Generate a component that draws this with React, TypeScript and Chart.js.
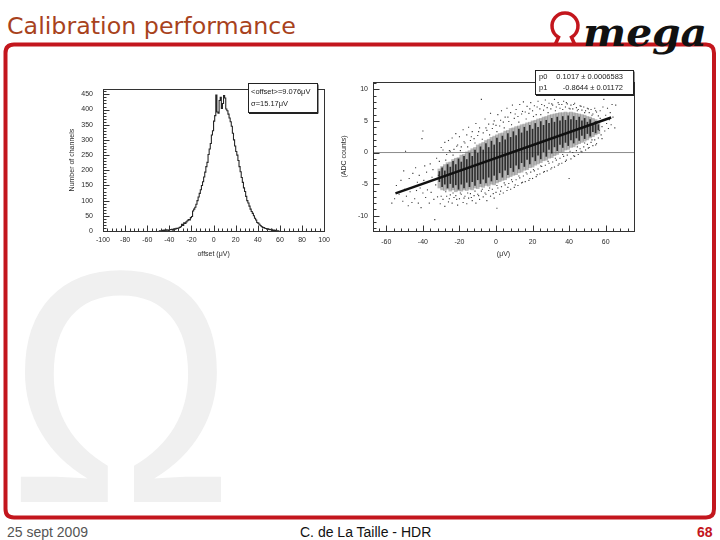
import React, { useEffect, useRef } from "react";
import { Chart, registerables } from "chart.js";

Chart.register(...registerables);
Chart.defaults.font.family = '"Liberation Sans", Arial, Helvetica, sans-serif';

// ---------- Histogram (left) ----------
const histStart = -50;
const histBinWidth = 1;
const histCounts = [
  0, 1, 0, 2, 1, 3, 2, 4, 3, 2,
  5, 4, 6, 3, 7, 6, 9, 8, 10, 12,
  14, 22, 18, 27, 25, 30, 34, 38, 36, 44,
  48, 66, 72, 78, 88, 100, 112, 124, 136, 150,
  162, 178, 194, 212, 226, 252, 270, 288, 316, 330,
  362, 380, 448, 392, 388, 430, 440, 404, 420, 446,
  438, 402, 396, 385, 372, 360, 345, 322, 300, 280,
  262, 250, 232, 212, 195, 176, 160, 142, 130, 114,
  100, 92, 82, 72, 64, 58, 50, 42, 36, 28,
  26, 22, 18, 15, 12, 11, 9, 8, 6, 7,
  5, 4, 6, 2, 3, 1, 2, 0, 1, 0,
];
const histXRange = [-100, 100];
const histYRange = [0, 467];
const histStatLines = ["<offset>=9.076\u03bcV", "\u03c3=15.17\u03bcV"];

// ---------- Scatter (right) ----------
const stripeX = [
  -31, -29.5, -28, -26.5, -25, -23.5, -22, -20.5, -19, -17.5, -16, -14.5, -13, -11.5, -10,
  -8.5, -7, -5.5, -4, -2.5, -1, 0.5, 2, 3.5, 5, 6.5, 8, 9.5, 11, 12.5, 14, 15.5, 17, 18.5,
  20, 21.5, 23, 24.5, 26, 27.5, 29, 30.5, 32, 33.5, 35, 36.5, 38, 39.5, 41, 42.5, 44, 45.5,
  47, 48.5, 50, 51.5, 53, 54.5, 56,
];
const stripeLo = [
  -5.6, -5.9, -6.0, -5.8, -6.1, -5.9, -6.2, -6.0, -6.1, -5.9, -6.0, -5.8, -5.9, -5.6, -5.7,
  -5.4, -5.5, -5.2, -5.3, -5.0, -5.1, -4.8, -4.6, -4.4, -4.3, -4.0, -3.8, -3.6, -3.5, -3.2, -3.1, -2.8, -2.7, -2.4,
  -2.3, -2.0, -1.8, -1.6, -1.3, -1.2, -0.9, -0.8, -0.5, -0.3, 0.0, 0.1, 0.4, 0.5, 0.8, 0.9, 1.2, 1.4,
  1.6, 1.8, 2.0, 2.3, 2.5, 2.8, 3.0,
];
const stripeHi = [
  -2.6, -2.2, -1.9, -1.6, -1.5, -1.1, -0.9, -0.8, -0.4, -0.3, 0.1, 0.3, 0.6, 0.8, 1.2,
  1.4, 1.6, 1.9, 2.1, 2.4, 2.6, 2.8, 3.0, 3.1, 3.4, 3.5, 3.8, 3.9, 4.1, 4.2, 4.4, 4.5, 4.7, 4.8,
  5.0, 5.1, 5.3, 5.4, 5.6, 5.7, 5.9, 6.0, 6.1, 6.2, 6.3, 6.3, 6.4, 6.3, 6.4, 6.3, 6.2, 6.1,
  6.0, 5.9, 5.7, 5.6, 5.4, 5.2, 5.0,
];
const coreLo = [
  -4.6, -5.4, -5.0, -5.6, -4.9, -5.5, -5.1, -5.8, -5.0, -5.6, -4.7, -5.4, -4.6, -5.2, -4.3,
  -4.9, -4.2, -4.8, -3.9, -4.5, -3.6, -4.3, -3.2, -3.9, -2.8, -3.5, -2.4, -3.0, -2.0, -2.6, -1.6, -2.2, -1.1, -1.8,
  -0.7, -1.3, -0.4, -1.0, 0.1, -0.6, 0.5, -0.1, 0.9, 0.3, 1.3, 0.8, 1.6, 1.1, 2.0, 1.5, 2.3, 1.9,
  2.7, 2.2, 3.0, 2.6, 3.3, 3.1, 3.6,
];
const coreHi = [
  -3.0, -2.4, -2.9, -1.9, -2.3, -1.4, -1.9, -1.0, -1.5, -0.6, -1.1, -0.1, -0.6, 0.4, -0.1,
  0.9, 0.4, 1.4, 0.8, 1.8, 1.2, 2.3, 1.6, 2.6, 2.0, 3.0, 2.4, 3.3, 2.7, 3.7, 3.1, 4.0, 3.4, 4.3,
  3.7, 4.6, 4.0, 4.9, 4.3, 5.1, 4.6, 5.4, 4.8, 5.6, 5.0, 5.7, 5.1, 5.8, 5.2, 5.7, 5.1, 5.6,
  5.0, 5.4, 4.8, 5.2, 4.6, 4.9, 4.4,
];
const scatterPoints: [number, number][] = [
  [-57, -8.0], [-55.5, -7.3], [-54.5, -5.2], [-53, -6.6], [-52, -4.4], [-51, -7.7], [-50.5, -2.9], [-50, -5.8],
  [-49.5, 0.2], [-49, -6.9], [-48, -8.4], [-47.5, -4.1], [-47, -6.2], [-46, -7.9], [-45.5, -3.3], [-45, -5.4],
  [-44.5, -7.3], [-44, -2.4], [-43.5, -6.0], [-43, -4.7], [-42.5, -8.0], [-42, -3.6], [-41.5, -5.6], [-41, -8.7],
  [-40.5, 2.2], [-40, 3.4], [-40, -6.4], [-39.5, -4.4], [-39, -2.1], [-38.5, -7.1], [-38, -3.1], [-37.5, -5.9],
  [-37, -4.6], [-36.5, -8.0], [-36, -1.8], [-35.5, -6.3], [-35, -3.9], [-34.5, -2.7], [-34, -7.4], [-33.5, -10.6],
  [-33, -5.1], [-32.5, -0.9], [-32, -7.0], [-31.5, -3.6], [-31, -1.4], [-30.5, -8.1], [-30, 0.8], [-30, -6.9],
  [-29, 0.4], [-29, -7.4], [-28, 1.6], [-28, -8.5], [-27, -0.3], [-27, -6.9], [-26, 1.9], [-26, -7.8],
  [-25, 0.2], [-25, -6.7], [-24, 2.3], [-24, -8.0], [-23, 0.5], [-23, -7.1], [-22, 3.0], [-22, -6.8],
  [-21, 1.2], [-21, -8.3], [-20, 2.5], [-20, -7.3], [-19, 0.9], [-19, -6.6], [-18, 3.6], [-18, -7.9],
  [-17, 1.5], [-17, -6.9], [-16, 2.8], [-16, -8.1], [-15, 4.0], [-15, -7.2], [-14, 1.9], [-14, -6.5],
  [-13, 3.3], [-13, -7.6], [-12, 2.2], [-12, -6.8], [-11, 4.6], [-11, -8.0], [-10, 2.7], [-10, -6.6],
  [-9, 3.9], [-9, -7.4], [-8, 8.4], [-8, -6.1], [-7, 3.1], [-7, -7.0], [-6, 5.3], [-6, -6.4],
  [-5, 3.5], [-5, -7.6], [-4, 4.5], [-4, -6.0], [-3, 6.2], [-3, -6.9], [-2, 3.8], [-2, -5.8],
  [-1, 5.0], [-1, -7.2], [0, 4.3], [0, -6.3], [0.5, -8.8], [1, 6.0], [1, -5.6], [2, 4.2], [2, -6.6],
  [3, 6.6], [3, -5.4], [4, 4.8], [4, -6.4], [5, 5.6], [5, -5.1], [6, 7.0], [6, -6.0],
  [7, 4.9], [7, -4.9], [8, 6.3], [8, -5.8], [9, 7.5], [9, -4.6], [10, 5.4], [10, -5.5],
  [11, 6.8], [11, -4.3], [12, 5.7], [12, -5.2], [13, 7.6], [13, -4.0], [14, 6.1], [14, -4.8],
  [15, 8.0], [15, -3.7], [16, 6.4], [16, -4.6], [17, 7.3], [17, -3.4], [18, 6.2], [18, -4.4],
  [19, 7.9], [19, -3.1], [20, 6.6], [20, -4.1], [21, 7.4], [21, -2.9], [22, 6.0], [22, -3.8],
  [23, 8.1], [23, -2.6], [24, 6.9], [24, -3.4], [25, 7.6], [25, -2.2], [26, 6.7], [26, -3.1],
  [27, 8.3], [27, -2.0], [28, 7.1], [28, -2.9], [29, 7.8], [29, -1.7], [30, 6.9], [30, -2.6],
  [31, 7.5], [31, -1.5], [32, 8.4], [32, -2.3], [33, 7.2], [33, -1.2], [34, 7.9], [34, -2.0],
  [35, 7.0], [35, -0.9], [36, 7.6], [36, -1.7], [37, 8.1], [37, -0.6], [38, 7.2], [38, -1.4],
  [39, 7.7], [39, -0.4], [40, 7.0], [40, -4.1], [41, 7.5], [41, -1.0], [42, 6.9], [42, 0.0],
  [43, 7.8], [43, -0.6], [44, 7.1], [44, 0.3], [45, 6.8], [45, -0.3], [46, 7.4], [46, 0.6],
  [47, 6.7], [47, 0.1], [48, 7.2], [48, 0.9], [49, 6.6], [49, 0.4], [50, 7.0], [50, 1.3],
  [51, 6.3], [51, 0.8], [52, 6.8], [52, 1.6], [53, 6.1], [53, 1.1], [54, 7.0], [54, 2.0],
  [55, 6.4], [55, 1.4], [56, 5.8], [56, 2.3], [57, 6.6], [57.5, 2.8], [58, 4.1], [58.5, 7.2],
  [59, 8.4], [59.5, 3.4], [60, 5.9], [60.5, 4.6], [61, 7.0], [61.5, 3.8], [62, 5.2], [62.5, 6.3],
  [63, 4.4], [63.5, 7.6], [64, 5.6], [65, 3.9], [65.5, 7.5], [56.5, 3.5], [55.5, 4.8], [57, 5.4], [58, 2.2],
  [-27.5, -1.2], [-27.5, -6.2], [-25.5, 0.3], [-25.5, -7.3], [-23.5, -0.4], [-23.5, -6.4], [-21.5, 1.0], [-21.5, -7.4],
  [-19.5, 0.3], [-19.5, -6.4], [-17.5, 1.7], [-17.5, -7.2], [-15.5, 0.9], [-15.5, -6.4], [-13.5, 2.5], [-13.5, -7.1],
  [-11.5, 1.5], [-11.5, -6.1], [-9.5, 3.3], [-9.5, -6.8], [-7.5, 2.1], [-7.5, -5.8], [-5.5, 3.9], [-5.5, -6.6],
  [-3.5, 2.8], [-3.5, -5.6], [-1.5, 4.5], [-1.5, -6.5], [0.5, 3.3], [0.5, -5.2], [2.5, 5.1], [2.5, -6.1],
  [4.5, 3.9], [4.5, -4.8], [6.5, 5.6], [6.5, -5.5], [8.5, 4.4], [8.5, -4.3], [10.5, 6.1], [10.5, -5.1],
  [12.5, 4.8], [12.5, -3.7], [14.5, 6.5], [14.5, -4.7], [16.5, 5.3], [16.5, -3.2], [18.5, 6.9], [18.5, -4.1],
  [20.5, 5.7], [20.5, -2.7], [22.5, 7.2], [22.5, -3.5], [24.5, 6.0], [24.5, -2.1], [26.5, 7.4], [26.5, -3.0],
  [28.5, 6.3], [28.5, -1.4], [30.5, 7.7], [30.5, -2.4], [32.5, 6.6], [32.5, -0.9], [34.5, 7.6], [34.5, -1.8],
  [36.5, 6.8], [36.5, -0.3], [38.5, 7.9], [38.5, -1.2], [40.5, 6.9], [40.5, 0.2], [42.5, 7.6], [42.5, -0.5],
  [44.5, 6.6], [44.5, 0.9], [46.5, 7.3], [46.5, 0.2], [48.5, 6.3], [48.5, 1.5], [50.5, 6.9], [50.5, 0.7],
  [52.5, 5.9], [52.5, 2.0], [54.5, 6.6], [54.5, 1.2],
];
const fitX = [-55, 63];
const fitY = [-6.46, 5.54];
const scatXRange = [-67.3, 75.5];
const scatYRange = [-12.4, 11.15];
const fitParams = [
  ["p0", "0.1017 \u00b1 0.0006583"],
  ["p1", "-0.8644 \u00b1 0.01172"],
];

const TICK_FONT = { size: 7 };
const TEXT_COLOR = "#2a2a2a";

type FrameOpts = {
  xMinor: number;
  xMajor: number;
  yMinor: number;
  yMajor: number;
  drawBox: (ctx: CanvasRenderingContext2D) => void;
};

function rootFrame(o: FrameOpts) {
  return {
    id: "rootFrame",
    afterDraw(chart: any) {
      const { ctx, chartArea: a, scales } = chart;
      const x = scales.x;
      const y = scales.y;
      ctx.save();
      ctx.strokeStyle = "#333";
      ctx.lineWidth = 1;
      const L = Math.round(a.left) + 0.5;
      const T = Math.round(a.top) + 0.5;
      const R = Math.round(a.right) + 0.5;
      const B = Math.round(a.bottom) + 0.5;
      ctx.strokeRect(L, T, R - L, B - T);
      ctx.beginPath();
      const i0 = Math.ceil(x.min / o.xMinor - 1e-6);
      const i1 = Math.floor(x.max / o.xMinor + 1e-6);
      for (let i = i0; i <= i1; i++) {
        const v = i * o.xMinor;
        const r = v / o.xMajor;
        const major = Math.abs(r - Math.round(r)) < 1e-6;
        const px = Math.round(x.getPixelForValue(v)) + 0.5;
        ctx.moveTo(px, B);
        ctx.lineTo(px, B - (major ? 6 : 3));
      }
      const j0 = Math.ceil(y.min / o.yMinor - 1e-6);
      const j1 = Math.floor(y.max / o.yMinor + 1e-6);
      for (let j = j0; j <= j1; j++) {
        const v = j * o.yMinor;
        const r = v / o.yMajor;
        const major = Math.abs(r - Math.round(r)) < 1e-6;
        const py = Math.round(y.getPixelForValue(v)) + 0.5;
        ctx.moveTo(L, py);
        ctx.lineTo(L + (major ? 6 : 3), py);
      }
      ctx.stroke();
      o.drawBox(ctx);
      ctx.restore();
    },
  };
}

function statBox(ctx: CanvasRenderingContext2D, bx: number, by: number, bw: number, bh: number) {
  ctx.fillStyle = "#fff";
  ctx.fillRect(bx, by, bw, bh);
  ctx.strokeStyle = "#222";
  ctx.lineWidth = 1;
  ctx.strokeRect(bx + 0.5, by, bw, bh);
  ctx.fillStyle = "#222";
  ctx.fillRect(bx + bw, by + 1, 1.5, bh);
  ctx.fillRect(bx + 1, by + bh, bw, 1.5);
  ctx.font = '7.5px "Liberation Sans", Arial, sans-serif';
  ctx.textBaseline = "middle";
}

function makeHist(canvas: HTMLCanvasElement) {
  const data = histCounts.map((c, i) => ({ x: histStart + histBinWidth * (i + 0.5), y: c }));
  return new Chart(canvas, {
    type: "scatter",
    data: {
      datasets: [
        {
          data,
          showLine: true,
          stepped: "middle",
          borderColor: "#262626",
          borderWidth: 1.1,
          pointRadius: 0,
          fill: false,
        } as any,
      ],
    },
    options: {
      animation: false,
      responsive: false,
      events: [],
      layout: { padding: { left: 8, right: 6, top: 5, bottom: 7 } },
      plugins: { legend: { display: false }, tooltip: { enabled: false } },
      scales: {
        x: {
          type: "linear",
          min: histXRange[0],
          max: histXRange[1],
          offset: false,
          afterFit: (s: any) => {
            s.height = 27;
          },
          ticks: { stepSize: 20, includeBounds: false, padding: 5, color: TEXT_COLOR, font: TICK_FONT, maxRotation: 0, autoSkip: false },
          grid: { display: false, drawTicks: false },
          border: { display: false },
          title: { display: true, text: "offset (\u03bcV)", color: TEXT_COLOR, font: TICK_FONT, padding: 0 },
        },
        y: {
          type: "linear",
          min: histYRange[0],
          max: histYRange[1],
          afterFit: (s: any) => {
            s.width = 35;
          },
          ticks: { stepSize: 50, includeBounds: false, padding: 10, color: TEXT_COLOR, font: TICK_FONT, autoSkip: false },
          grid: { display: false, drawTicks: false },
          border: { display: false },
          title: { display: true, text: "Number of channels", color: TEXT_COLOR, font: TICK_FONT, padding: 0 },
        },
      },
    },
    plugins: [
      rootFrame({
        xMinor: 4,
        xMajor: 20,
        yMinor: 10,
        yMajor: 50,
        drawBox: (ctx) => {
          const bx = 188, by = 8.5, bw = 69, bh = 29;
          statBox(ctx, bx, by, bw, bh);
          ctx.textAlign = "left";
          ctx.fillText(histStatLines[0], bx + 3, by + 8.5);
          ctx.fillText(histStatLines[1], bx + 3, by + 20);
        },
      }),
    ],
  });
}

function makeScatter(canvas: HTMLCanvasElement) {
  return new Chart(canvas, {
    type: "scatter",
    data: {
      datasets: [
        {
          type: "line",
          data: [
            { x: scatXRange[0], y: 0 },
            { x: scatXRange[1], y: 0 },
          ],
          borderColor: "#8c8c8c",
          borderWidth: 1,
          pointRadius: 0,
          order: 6,
        } as any,
        {
          type: "bar",
          data: stripeX.map((x, i) => ({ x, y: [stripeLo[i], stripeHi[i]] })),
          backgroundColor: "rgba(125,125,125,0.55)",
          barThickness: 3,
          grouped: false,
          order: 5,
        },
        {
          type: "bar",
          data: stripeX.map((x, i) => ({ x, y: [coreLo[i], coreHi[i]] })),
          backgroundColor: "rgba(30,30,30,0.9)",
          barThickness: 1,
          grouped: false,
          order: 4,
        },
        {
          type: "scatter",
          data: scatterPoints.map(([x, y]) => ({ x, y })),
          pointStyle: "rect",
          pointRadius: 0.8,
          backgroundColor: "#3a3a3a",
          borderWidth: 0,
          order: 3,
        },
        {
          type: "line",
          data: fitX.map((x, i) => ({ x, y: fitY[i] })),
          borderColor: "#111",
          borderWidth: 2.5,
          pointRadius: 0,
          order: 1,
        } as any,
      ],
    },
    options: {
      animation: false,
      responsive: false,
      events: [],
      layout: { padding: { left: 5, right: 11, top: 12, bottom: 7 } },
      plugins: { legend: { display: false }, tooltip: { enabled: false } },
      scales: {
        x: {
          type: "linear",
          min: scatXRange[0],
          max: scatXRange[1],
          offset: false,
          afterFit: (s: any) => {
            s.height = 27;
          },
          ticks: { stepSize: 20, includeBounds: false, padding: 7, color: TEXT_COLOR, font: TICK_FONT, maxRotation: 0, autoSkip: false },
          grid: { display: false, drawTicks: false, offset: false },
          border: { display: false },
          title: { display: true, text: "(\u03bcV)", color: TEXT_COLOR, font: TICK_FONT, padding: 0 },
        },
        y: {
          type: "linear",
          min: scatYRange[0],
          max: scatYRange[1],
          afterFit: (s: any) => {
            s.width = 33;
          },
          ticks: { stepSize: 5, includeBounds: false, padding: 5, color: TEXT_COLOR, font: TICK_FONT, autoSkip: false },
          grid: { display: false, drawTicks: false },
          border: { display: false },
          title: { display: true, text: "(ADC counts)", color: TEXT_COLOR, font: TICK_FONT, padding: 0 },
        },
      },
    },
    plugins: [
      rootFrame({
        xMinor: 4,
        xMajor: 20,
        yMinor: 1,
        yMajor: 5,
        drawBox: (ctx) => {
          const bx = 200, by = 0.5, bw = 98, bh = 24;
          statBox(ctx, bx, by, bw, bh);
          fitParams.forEach((row, k) => {
            const ty = by + 6 + k * 11.3;
            ctx.textAlign = "left";
            ctx.fillText(row[0], bx + 4, ty);
            ctx.textAlign = "right";
            ctx.fillText(row[1], bx + 88, ty);
          });
        },
      }),
    ],
  });
}

function ChartCanvas(props: { left: number; top: number; width: number; height: number; make: (c: HTMLCanvasElement) => Chart }) {
  const ref = useRef<HTMLCanvasElement>(null);
  useEffect(() => {
    const chart = props.make(ref.current!);
    return () => chart.destroy();
  }, []);
  return (
    <canvas
      ref={ref}
      width={props.width}
      height={props.height}
      style={{ position: "absolute", left: props.left, top: props.top, width: props.width, height: props.height }}
    />
  );
}

const RED = "#c3161d";

export default function App() {
  return (
    <div style={{ position: "absolute", left: 0, top: 0, width: 720, height: 540, background: "#fff", overflow: "hidden" }}>
      <svg width={720} height={540} style={{ position: "absolute", left: 0, top: 0 }}>
        <text
          x={8}
          y={502}
          fontFamily='"Liberation Sans", Arial, sans-serif'
          fontSize={332}
          fill="#f0f0f0"
          textLength={226}
          lengthAdjust="spacingAndGlyphs"
        >
          Ω
        </text>
        <path
          d="M 14 44.5 H 706 Q 714 44.5 714 53 V 509 Q 714 517.5 706 517.5 H 14 Q 5.5 517.5 5.5 509 V 53 Q 5.5 44.5 14 44.5 Z"
          fill="none"
          stroke={RED}
          strokeWidth={4}
        />
        <path d="M 555 45 L 558.5 37.3 A 13 13 0 1 1 571.5 37.3 L 575 45" fill="none" stroke={RED} strokeWidth={3.5} />
        <text
          x={583}
          y={46}
          fontFamily='"DejaVu Serif", "Liberation Serif", serif'
          fontStyle="italic"
          fontWeight="bold"
          fontSize={40}
          fill="#111"
          textLength={124}
          lengthAdjust="spacingAndGlyphs"
        >
          mega
        </text>
        <text
          x={7}
          y={34}
          fontFamily='"DejaVu Sans", Verdana, sans-serif'
          fontSize={23.5}
          fill="#a8421c"
          textLength={289}
          lengthAdjust="spacingAndGlyphs"
        >
          Calibration performance
        </text>
        <text x={7} y={537} fontFamily='"Liberation Sans", Arial, sans-serif' fontSize={14} fill="#555">
          25 sept 2009
        </text>
        <text x={300} y={537} fontFamily='"Liberation Sans", Arial, sans-serif' fontSize={14} fill="#111">
          C. de La Taille - HDR
        </text>
        <text x={697} y={537} fontFamily='"Liberation Sans", Arial, sans-serif' fontSize={14} fontWeight="bold" fill={RED}>
          68
        </text>
      </svg>
      <ChartCanvas left={60} top={75} width={275} height={190} make={makeHist} />
      <ChartCanvas left={335} top={70} width={310} height={195} make={makeScatter} />
    </div>
  );
}
